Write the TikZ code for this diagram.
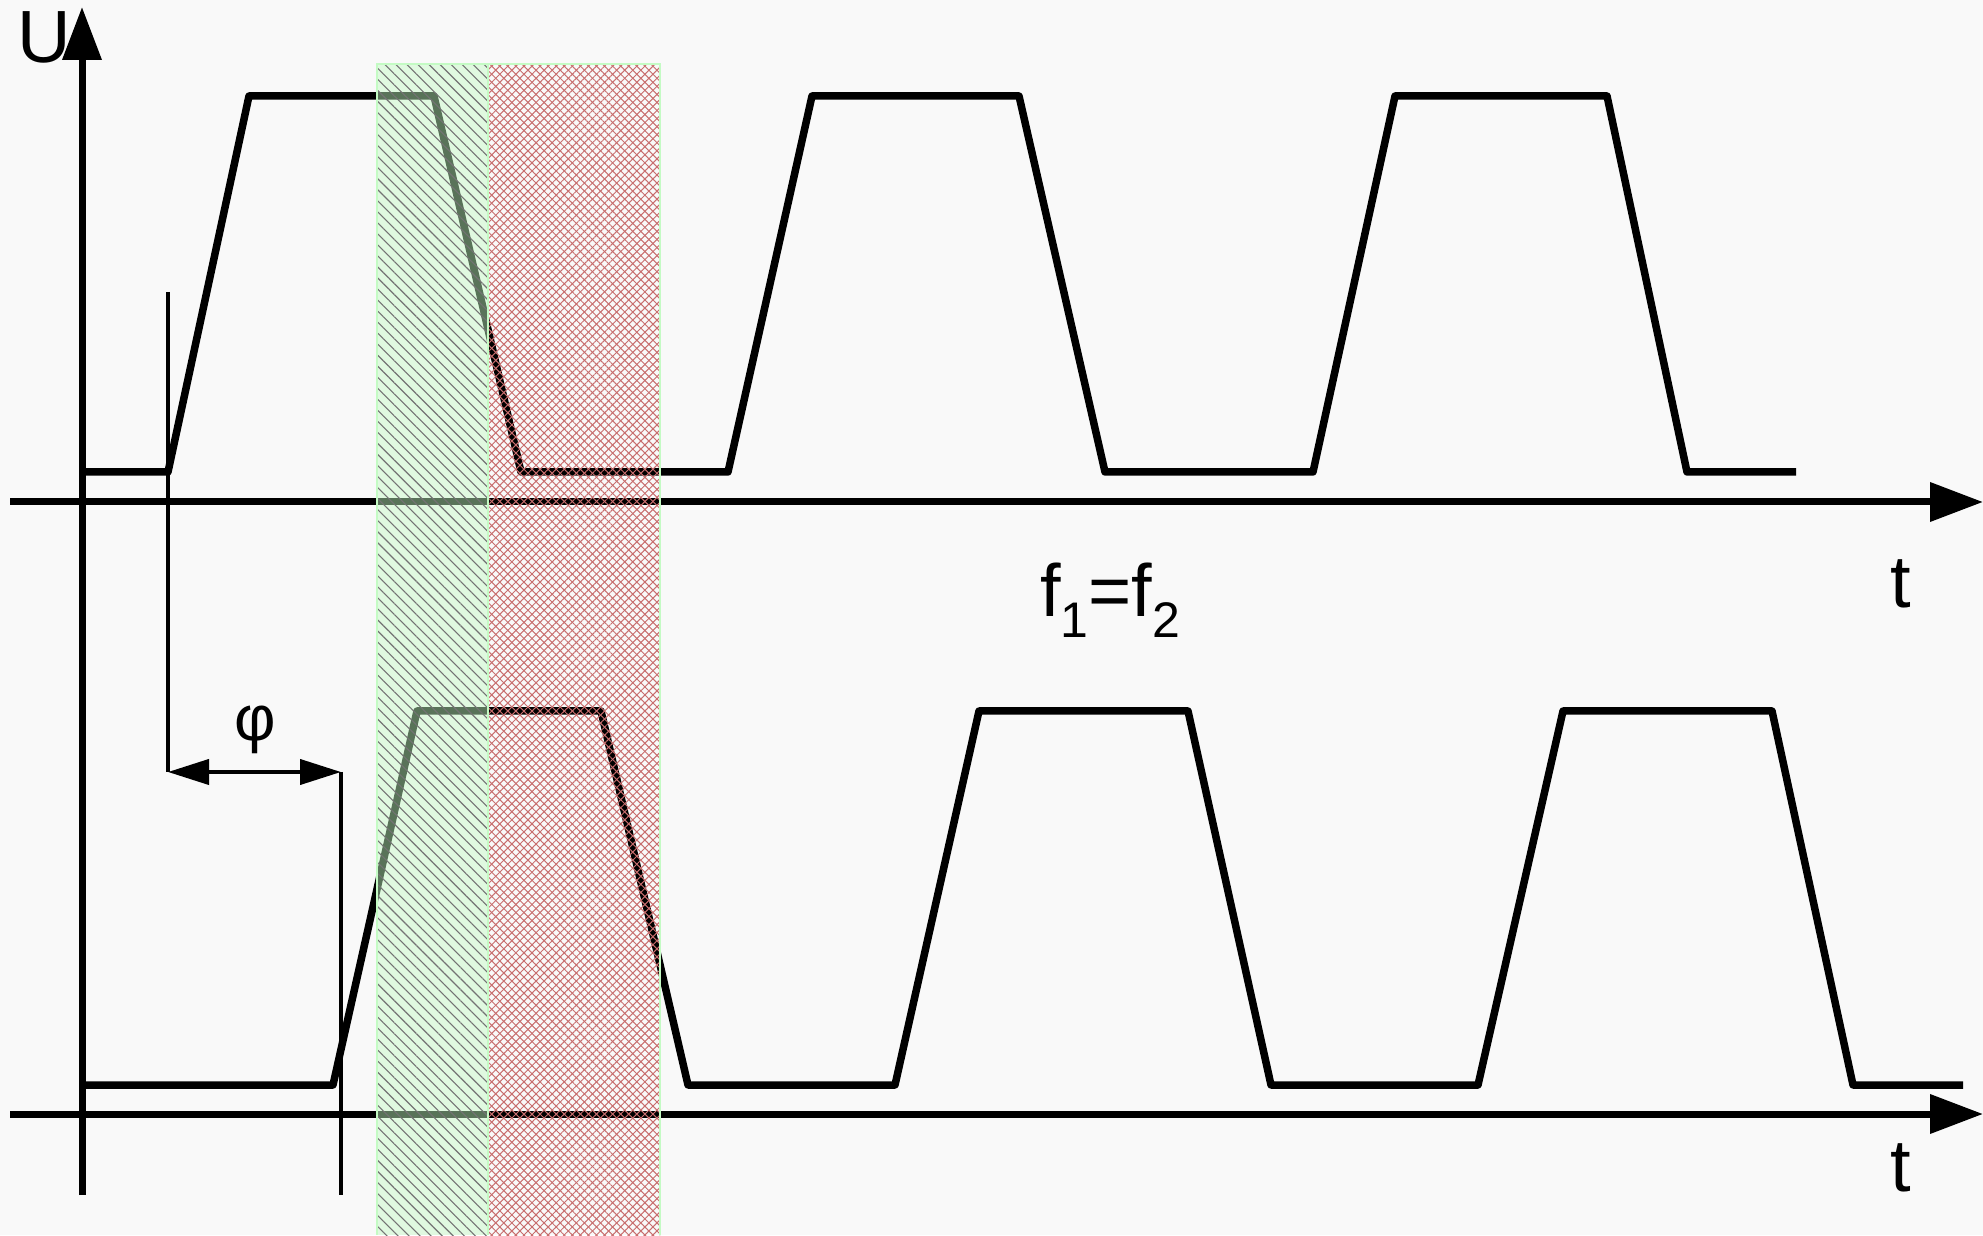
\documentclass[tikz,border=0pt]{standalone}
\usepackage{fontspec}
\setmainfont{Liberation Sans}
\usetikzlibrary{arrows.meta,patterns.meta}
\definecolor{paper}{RGB}{249,249,249}
\definecolor{hatchgreen}{RGB}{196,251,196}
\definecolor{hatchred}{RGB}{200,110,110}
\newcommand{\subidx}[1]{\raisebox{-21pt}{\fontsize{50}{50}\selectfont #1}}

\begin{document}
\begin{tikzpicture}[x=100pt,y=100pt,
    axis/.style={line width=7pt,-{Triangle[length=53pt,width=38pt]}},
    wave/.style={line width=7.5pt,line join=round},
    philine/.style={line width=4pt},
    lbl/.style={font=\fontsize{74}{80}\selectfont,inner sep=0pt}]
  \useasboundingbox (0,0) rectangle (19.83,12.35);
  \fill[paper] (0,0) rectangle (19.83,12.35);
  % axes
  \draw[axis] (0.82,0.40) -- (0.82,12.28);
  \draw[axis] (0.10,7.33) -- (19.83,7.33);
  \draw[axis] (0.10,1.21) -- (19.83,1.21);
  % signal 1
  \draw[wave] (0.82,7.63) -- (1.68,7.63) -- (2.49,11.39) -- (4.34,11.39) -- (5.21,7.63)
    -- (7.28,7.63) -- (8.12,11.39) -- (10.19,11.39) -- (11.05,7.63) -- (13.13,7.63)
    -- (13.95,11.39) -- (16.07,11.39) -- (16.87,7.63) -- (17.96,7.63);
  % signal 2
  \draw[wave] (0.82,1.50) -- (3.33,1.50) -- (4.17,5.24) -- (6.01,5.24) -- (6.88,1.50)
    -- (8.95,1.50) -- (9.79,5.24) -- (11.88,5.24) -- (12.71,1.50) -- (14.78,1.50)
    -- (15.63,5.24) -- (17.72,5.24) -- (18.53,1.50) -- (19.63,1.50);
  % phase shift
  \coordinate (phitop) at (1.68,9.43);
  \coordinate (phileft) at (1.68,4.63);
  \coordinate (phiright) at (3.41,4.63);
  \coordinate (phibot) at (3.41,0.40);
  \draw[philine] (phitop) -- (phileft);
  \draw[philine] (phiright) -- (phibot);
  \draw[philine,{Triangle[length=41pt,width=25pt]}-{Triangle[length=41pt,width=25pt]}] (phileft) -- (phiright);
  \node[font=\fontsize{64}{70}\selectfont,inner sep=0pt] (phi) at (2.55,5.05) {φ};
  % overlap windows
  \fill[hatchgreen,fill opacity=0.46] (3.77,0) rectangle (4.88,11.71);
  \fill[pattern={Lines[angle=-45,distance=7.8pt,line width=1.1pt]},pattern color=black!55] (3.77,0) rectangle (4.88,11.71);
  \fill[pattern={Lines[angle=45,distance=5.7pt,line width=1pt]},pattern color=hatchred] (4.88,0) rectangle (6.60,11.71);
  \fill[pattern={Lines[angle=-45,distance=5.7pt,line width=1pt]},pattern color=hatchred] (4.88,0) rectangle (6.60,11.71);
  \draw[hatchgreen,line width=1.5pt] (3.77,0) -- (3.77,11.71) -- (6.60,11.71) -- (6.60,0);
  \draw[hatchgreen,line width=1.5pt] (4.88,0) -- (4.88,11.71);
  % labels
  \node[lbl,anchor=base] (ulabel) at (0.445,11.72) {U};
  \node[lbl,anchor=base] (ttop) at (19.01,6.27) {t};
  \node[lbl,anchor=base] (tbot) at (19.01,0.44) {t};
  \node[lbl,anchor=base west] (ratio) at (10.40,6.18) {f\subidx{1}=f\subidx{2}};
\end{tikzpicture}
\end{document}
